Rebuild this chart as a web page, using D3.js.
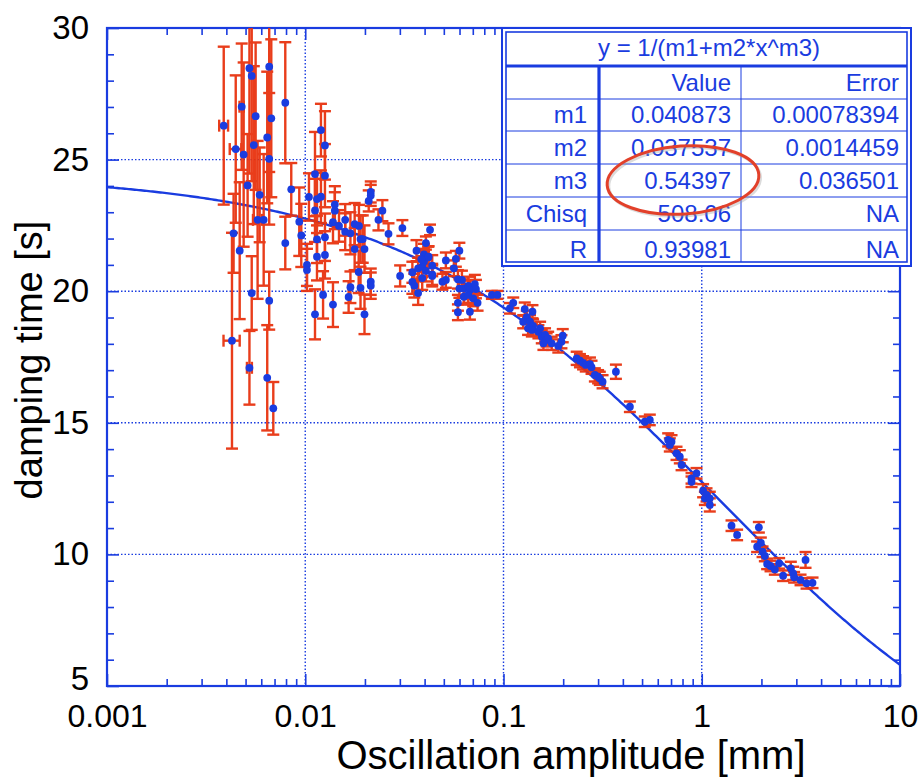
<!DOCTYPE html>
<html>
<head>
<meta charset="utf-8">
<script src="https://cdn.jsdelivr.net/npm/d3@7"></script>
<style>
  body { margin: 0; background: #fff; }
  svg { font-family: "Liberation Sans", Arial, sans-serif; }
</style>
</head>
<body>
<div id="chart"></div>
<script>
// measurements: [amplitude mm, damping time s, time error s, amplitude error mm]
const smallAmp = [
  [0.00388, 26.29, 3.0, 0.0002], [0.00427, 18.12, 4.1, 0.0004], [0.00435, 22.20, 1.5, 0],
  [0.00446, 25.40, 2.8, 0.0003], [0.00467, 21.54, 2.6, 0], [0.00478, 27.01, 2.4, 0.00012],
  [0.00489, 25.19, 3.5, 0], [0.00512, 24.02, 1.95, 0], [0.00523, 28.47, 4.0, 0],
  [0.00537, 28.18, 4.0, 0], [0.00523, 17.09, 1.4, 0.00015], [0.00537, 19.93, 1.4, 0],
  [0.0055, 25.55, 3.0, 0], [0.00562, 26.65, 2.8, 0], [0.00575, 22.71, 3.0, 0.0003],
  [0.00589, 23.66, 1.8, 0], [0.00617, 22.71, 2.5, 0], [0.00643, 25.84, 2.5, 0],
  [0.00643, 16.71, 2.0, 0], [0.00658, 28.53, 4.0, 0], [0.00658, 25.03, 2.5, 0],
  [0.00658, 19.64, 1.1, 0], [0.00674, 26.57, 3.0, 0], [0.0069, 15.55, 1.0, 0],
  [0.00793, 27.16, 2.3, 0], [0.00793, 21.83, 1.0, 0], [0.0085, 23.87, 1.0, 0],
  [0.00933, 22.64, 1.3, 0], [0.00955, 22.12, 1.2, 0]
];
const midAmp = [
  [0.0102, 21.00, 0.8, 0], [0.0102, 20.81, 0.8, 0], [0.01044, 23.58, 0.9, 0],
  [0.0112, 24.45, 1.6, 0], [0.0112, 23.07, 1.2, 0], [0.01146, 23.50, 1.0, 0],
  [0.0120, 23.59, 1.0, 0], [0.0120, 26.12, 1.0, 0], [0.01257, 25.54, 1.3, 0],
  [0.01257, 24.39, 1.2, 0], [0.01146, 21.97, 0.9, 0], [0.01146, 21.31, 0.9, 0],
  [0.01257, 22.05, 0.9, 0], [0.01257, 21.38, 0.9, 0], [0.0123, 19.86, 0.9, 0],
  [0.0112, 19.12, 0.95, 0], [0.0138, 22.62, 0.8, 0], [0.0138, 19.49, 0.85, 0],
  [0.0141, 23.29, 0.7, 0], [0.0141, 23.06, 0.7, 0], [0.0148, 22.48, 0.6, 0],
  [0.0159, 22.71, 0.6, 0], [0.0159, 22.26, 0.7, 0], [0.0169, 22.20, 0.8, 0],
  [0.01775, 22.55, 0.8, 0], [0.01866, 22.48, 0.8, 0], [0.01775, 21.60, 0.8, 0],
  [0.0190, 21.98, 0.9, 0], [0.0195, 21.98, 0.9, 0], [0.0199, 21.60, 0.9, 0],
  [0.0186, 20.73, 0.8, 0], [0.0190, 20.13, 0.8, 0], [0.0169, 20.15, 0.6, 0],
  [0.01655, 19.78, 0.6, 0], [0.0199, 19.12, 0.75, 0], [0.0214, 23.77, 0.4, 0],
  [0.0214, 23.64, 0.4, 0], [0.0209, 23.43, 0.4, 0], [0.0214, 20.36, 0.5, 0],
  [0.0214, 20.21, 0.5, 0], [0.0245, 23.06, 0.4, 0], [0.0234, 22.71, 0.4, 0],
  [0.0263, 22.18, 0.4, 0], [0.0301, 20.58, 0.4, 0], [0.0309, 22.40, 0.3, 0]
];
const knee = [
  [0.0426, 22.33, 0.2, 0], [0.0406, 21.83, 0.25, 0], [0.0364, 21.54, 0.4, 0],
  [0.0397, 21.40, 0.4, 0], [0.0419, 21.31, 0.4, 0], [0.0347, 20.72, 0.4, 0],
  [0.0371, 20.87, 0.4, 0], [0.0389, 20.93, 0.4, 0], [0.0406, 20.77, 0.4, 0],
  [0.0437, 20.97, 0.4, 0], [0.0437, 20.58, 0.4, 0], [0.0347, 20.35, 0.45, 0],
  [0.0355, 20.21, 0.45, 0], [0.0371, 19.93, 0.45, 0], [0.0389, 20.50, 0.45, 0],
  [0.0397, 21.13, 0.4, 0], [0.0417, 21.29, 0.4, 0], [0.0385, 21.21, 0.4, 0],
  [0.0437, 20.64, 0.4, 0], [0.0492, 20.36, 0.3, 0], [0.0512, 20.43, 0.3, 0],
  [0.0512, 21.17, 0.3, 0], [0.0562, 20.87, 0.3, 0], [0.0575, 21.23, 0.3, 0],
  [0.0599, 21.54, 0.3, 0], [0.0589, 20.45, 0.35, 0], [0.0617, 20.43, 0.35, 0],
  [0.0599, 20.10, 0.35, 0], [0.0631, 20.10, 0.35, 0], [0.0664, 20.20, 0.35, 0],
  [0.0677, 20.05, 0.35, 0], [0.0717, 20.27, 0.35, 0], [0.0726, 20.08, 0.35, 0],
  [0.0631, 19.79, 0.3, 0], [0.0664, 19.86, 0.3, 0], [0.0703, 19.73, 0.3, 0],
  [0.0740, 19.56, 0.3, 0], [0.0589, 19.56, 0.3, 0], [0.0677, 19.22, 0.3, 0],
  [0.0589, 19.20, 0.3, 0], [0.0874, 19.86, 0.15, 0], [0.0932, 19.86, 0.15, 0]
];
const largeAmp = [
  [0.1077, 19.35, 0.2, 0], [0.112, 19.56, 0.2, 0], [0.128, 19.32, 0.25, 0],
  [0.140, 19.22, 0.25, 0], [0.131, 19.01, 0.25, 0], [0.1257, 18.84, 0.25, 0],
  [0.136, 18.84, 0.25, 0], [0.133, 18.59, 0.25, 0], [0.141, 18.68, 0.25, 0],
  [0.139, 18.53, 0.25, 0], [0.153, 18.59, 0.25, 0], [0.150, 18.46, 0.25, 0],
  [0.156, 18.27, 0.25, 0], [0.162, 18.34, 0.25, 0], [0.165, 18.15, 0.25, 0],
  [0.168, 18.21, 0.25, 0], [0.159, 18.02, 0.25, 0], [0.175, 18.02, 0.25, 0],
  [0.199, 18.31, 0.25, 0], [0.196, 18.08, 0.25, 0], [0.189, 17.92, 0.25, 0],
  [0.234, 17.45, 0.25, 0], [0.243, 17.36, 0.25, 0], [0.252, 17.28, 0.25, 0],
  [0.260, 17.20, 0.25, 0], [0.273, 17.23, 0.25, 0], [0.278, 17.11, 0.25, 0],
  [0.289, 16.82, 0.25, 0], [0.300, 16.75, 0.25, 0], [0.306, 16.69, 0.25, 0],
  [0.316, 16.56, 0.25, 0], [0.369, 16.94, 0.27, 0], [0.434, 15.61, 0.2, 0],
  [0.516, 15.04, 0.2, 0], [0.547, 15.11, 0.2, 0], [0.677, 14.35, 0.25, 0],
  [0.704, 14.28, 0.25, 0], [0.690, 14.16, 0.25, 0], [0.746, 13.84, 0.25, 0],
  [0.775, 13.71, 0.25, 0], [0.791, 13.40, 0.2, 0], [0.888, 12.89, 0.2, 0],
  [0.888, 12.76, 0.2, 0], [0.941, 13.08, 0.2, 0], [1.016, 12.42, 0.25, 0],
  [1.057, 12.26, 0.25, 0], [1.037, 12.13, 0.25, 0], [1.098, 12.13, 0.25, 0],
  [1.098, 11.88, 0.25, 0], [1.413, 11.09, 0.2, 0], [1.508, 10.74, 0.2, 0],
  [1.941, 11.03, 0.2, 0], [1.903, 10.29, 0.2, 0], [1.986, 10.44, 0.2, 0],
  [2.026, 10.10, 0.2, 0], [2.081, 9.94, 0.2, 0], [2.137, 9.64, 0.2, 0],
  [2.223, 9.56, 0.2, 0], [2.337, 9.43, 0.2, 0], [2.457, 9.66, 0.2, 0],
  [2.573, 9.19, 0.2, 0], [2.814, 9.47, 0.25, 0], [2.891, 9.28, 0.25, 0],
  [2.924, 9.13, 0.2, 0], [3.150, 9.03, 0.2, 0], [3.377, 8.90, 0.2, 0],
  [3.621, 8.92, 0.2, 0], [3.338, 9.79, 0.3, 0]
];

const xTicks = [0.001, 0.01, 0.1, 1, 10];
const yTicks = [5, 10, 15, 20, 25, 30];

// fit results table
const fitTitle = "y = 1/(m1+m2*x^m3)";
const paramNames = ["m1", "m2", "m3", "Chisq", "R"];
const paramValues = ["0.040873", "0.037537", "0.54397", "508.06", "0.93981"];
const paramErrors = ["0.00078394", "0.0014459", "0.036501", "NA", "NA"];
const m1 = 0.040873, m2 = 0.037537, m3 = 0.54397;

const blue = "#1a3ce0", red = "#e8330f";

const svg = d3.select("#chart").append("svg")
    .attr("width", 918)
    .attr("height", 778);

const x = d3.scaleLog().domain([0.001, 10]).range([107, 900]);
const y = d3.scaleLinear().domain([5, 30]).range([686, 28]);

svg.append("clipPath").attr("id", "plot-clip")
  .append("rect")
    .attr("x", x.range()[0]).attr("y", y.range()[1])
    .attr("width", x.range()[1] - x.range()[0])
    .attr("height", y.range()[0] - y.range()[1]);

// dotted grid
const grid = svg.append("g")
    .attr("stroke", blue).attr("stroke-width", 1.4)
    .attr("stroke-dasharray", "1.5,2");
grid.selectAll(".gx").data(xTicks.slice(1, -1)).enter().append("line")
    .attr("x1", d => x(d)).attr("x2", d => x(d))
    .attr("y1", y(30)).attr("y2", y(5));
grid.selectAll(".gy").data(yTicks.slice(1, -1)).enter().append("line")
    .attr("y1", d => y(d)).attr("y2", d => y(d))
    .attr("x1", x(0.001)).attr("x2", x(10));

// minor tick values
const xMinor = [];
xTicks.slice(0, -1).forEach(d => { for (let k = 2; k < 10; k++) xMinor.push(d * k); });
const yMinor = d3.range(6, 30).filter(v => v % 5 !== 0);

function styleAxis(g) {
  g.select(".domain").remove();
  g.selectAll("line").attr("stroke", blue).attr("stroke-width", 1.6);
  g.selectAll("text").attr("fill", "#000").style("font-size", "33px");
}

// bottom
svg.append("g").attr("transform", "translate(0," + y(5) + ")")
    .call(d3.axisBottom(x).tickValues(xTicks).tickFormat(d3.format("~g"))
      .tickSizeInner(-12).tickSizeOuter(0).tickPadding(18))
    .call(styleAxis)
    .call(g => g.selectAll("text").style("font-size", "32px"));
svg.append("g").attr("transform", "translate(0," + y(5) + ")")
    .call(d3.axisBottom(x).tickValues(xMinor).tickFormat("").tickSizeInner(-7).tickSizeOuter(0))
    .call(styleAxis);
// top
svg.append("g").attr("transform", "translate(0," + y(30) + ")")
    .call(d3.axisTop(x).tickValues(xTicks).tickFormat("").tickSizeInner(-12).tickSizeOuter(0))
    .call(styleAxis);
svg.append("g").attr("transform", "translate(0," + y(30) + ")")
    .call(d3.axisTop(x).tickValues(xMinor).tickFormat("").tickSizeInner(-7).tickSizeOuter(0))
    .call(styleAxis);
// left
svg.append("g").attr("transform", "translate(" + x(0.001) + ",0)")
    .call(d3.axisLeft(y).tickValues(yTicks).tickSizeInner(-12).tickSizeOuter(0).tickPadding(18))
    .call(styleAxis)
    .call(g => g.selectAll("text").filter(d => d === 5).attr("dy", "0.1em"));
svg.append("g").attr("transform", "translate(" + x(0.001) + ",0)")
    .call(d3.axisLeft(y).tickValues(yMinor).tickFormat("").tickSizeInner(-7).tickSizeOuter(0))
    .call(styleAxis);
// right
svg.append("g").attr("transform", "translate(" + x(10) + ",0)")
    .call(d3.axisRight(y).tickValues(yTicks).tickFormat("").tickSizeInner(-12).tickSizeOuter(0))
    .call(styleAxis);
svg.append("g").attr("transform", "translate(" + x(10) + ",0)")
    .call(d3.axisRight(y).tickValues(yMinor).tickFormat("").tickSizeInner(-7).tickSizeOuter(0))
    .call(styleAxis);

// frame
svg.append("rect")
    .attr("x", x(0.001)).attr("y", y(30))
    .attr("width", x(10) - x(0.001)).attr("height", y(5) - y(30))
    .attr("fill", "none").attr("stroke", blue).attr("stroke-width", 2.2);

const plot = svg.append("g").attr("clip-path", "url(#plot-clip)");

// fit curve
const fitX = d3.range(0, 401).map(i => Math.pow(10, -3 + 4 * i / 400));
plot.append("path")
    .datum(fitX)
    .attr("fill", "none").attr("stroke", blue).attr("stroke-width", 2.4)
    .attr("d", d3.line().x(d => x(d)).y(d => y(1 / (m1 + m2 * Math.pow(d, m3)))));

const points = smallAmp.concat(midAmp, knee, largeAmp);
const cap = 6;

// error bars
const eb = plot.append("g").attr("stroke", red).attr("stroke-width", 2.4).attr("opacity", 0.95);
points.forEach(p => {
  const [a, t, dt, da] = p;
  const cx = x(a), top = y(t + dt), bot = y(t - dt);
  eb.append("line").attr("x1", cx).attr("x2", cx).attr("y1", top).attr("y2", bot);
  eb.append("line").attr("x1", cx - cap).attr("x2", cx + cap).attr("y1", top).attr("y2", top);
  eb.append("line").attr("x1", cx - cap).attr("x2", cx + cap).attr("y1", bot).attr("y2", bot);
  if (da > 0) {
    const l = x(a - da), r = x(a + da), cy = y(t);
    eb.append("line").attr("x1", l).attr("x2", r).attr("y1", cy).attr("y2", cy);
    eb.append("line").attr("x1", l).attr("x2", l).attr("y1", cy - cap).attr("y2", cy + cap);
    eb.append("line").attr("x1", r).attr("x2", r).attr("y1", cy - cap).attr("y2", cy + cap);
  }
});

// points
plot.append("g").selectAll("circle")
    .data(points)
    .enter()
    .append("circle")
    .attr("cx", d => x(d[0]))
    .attr("cy", d => y(d[1]))
    .attr("r", 3.9)
    .attr("fill", blue);

// axis titles
svg.append("text")
    .attr("x", 571).attr("y", 769)
    .attr("text-anchor", "middle")
    .style("font-size", "40px")
    .text("Oscillation amplitude [mm]");
svg.append("text")
    .attr("text-anchor", "middle")
    .style("font-size", "38px")
    .attr("transform", "translate(42,360) rotate(-90)")
    .text("damping time [s]");

// fit table
const tb = {left: 502, right: 911, top: 28, bottom: 266};
const colX = [tb.left, 599, 741, tb.right];
const rowY = [tb.top, 66, 99, 131, 164, 197, 230, tb.bottom];
const table = svg.append("g");
table.append("rect")
    .attr("x", tb.left).attr("y", tb.top)
    .attr("width", tb.right - tb.left).attr("height", tb.bottom - tb.top)
    .attr("fill", "#fff").attr("stroke", blue).attr("stroke-width", 2);
table.append("rect")
    .attr("x", tb.left + 4).attr("y", tb.top + 4)
    .attr("width", tb.right - tb.left - 8).attr("height", tb.bottom - tb.top - 8)
    .attr("fill", "none").attr("stroke", blue).attr("stroke-width", 1.6);
rowY.slice(1, -1).forEach((ry, i) => {
  table.append("line")
      .attr("x1", tb.left + 4).attr("x2", tb.right - 4)
      .attr("y1", ry).attr("y2", ry)
      .attr("stroke", blue).attr("stroke-width", i === 0 ? 3.2 : 1);
});
colX.slice(1, -1).forEach((cx, i) => {
  table.append("line")
      .attr("x1", cx).attr("x2", cx)
      .attr("y1", rowY[1]).attr("y2", tb.bottom - 4)
      .attr("stroke", blue).attr("stroke-width", i === 0 ? 3.2 : 1);
});
const tText = (tx, ty, s, anchor) => table.append("text")
    .attr("x", tx).attr("y", ty)
    .attr("text-anchor", anchor || "end")
    .attr("fill", blue)
    .style("font-size", "24px")
    .text(s);
tText(709, 56, fitTitle, "middle");
tText(colX[2] - 10, 91, "Value");
tText(colX[3] - 12, 91, "Error");
paramNames.forEach((n, i) => {
  const by = rowY[i + 3] - 8;
  tText(colX[1] - 12, by, n);
  tText(colX[2] - 10, by, paramValues[i]);
  tText(colX[3] - 12, by, paramErrors[i]);
});

// red ellipse highlight around m3
const mark = svg.append("g").attr("transform", "translate(683,180) rotate(-4)");
mark.append("ellipse")
    .attr("cx", 1.5).attr("cy", 2).attr("rx", 76).attr("ry", 34)
    .attr("fill", "none").attr("stroke", "#999").attr("stroke-opacity", 0.35).attr("stroke-width", 3);
mark.append("ellipse")
    .attr("rx", 76).attr("ry", 34)
    .attr("fill", "none").attr("stroke", "#e2402a").attr("stroke-width", 3);
</script>
</body>
</html>
